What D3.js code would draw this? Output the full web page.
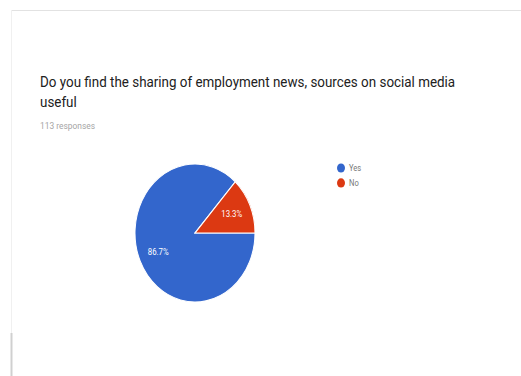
<!DOCTYPE html>
<html>
<head>
<meta charset="utf-8">
<script src="https://cdn.jsdelivr.net/npm/d3@7"></script>
<style>
  html, body { margin: 0; padding: 0; background: #fff; }
  svg { display: block; }
  text { font-family: Roboto, Arial, sans-serif; }
</style>
</head>
<body>
<svg id="chart" width="521" height="376"></svg>
<script>
// Survey question and response breakdown
const titleLines = ["Do you find the sharing of employment news, sources on social media", "useful"];
const responseNote = "113 responses";
const categories = ["Yes", "No"];
const percents = [86.7, 13.3];
const colors = ["#3366cc", "#dc3912"];

const W = 521, H = 376;
const sy = 1.15; // vertical stretch of the card

const svg = d3.select("#chart");

// Card outline
svg.append("line").attr("x1", 11).attr("x2", W).attr("y1", 10.5).attr("y2", 10.5)
  .attr("stroke", "#e2e2e2").attr("stroke-width", 1);
svg.append("line").attr("x1", 11.5).attr("x2", 11.5).attr("y1", 10).attr("y2", H)
  .attr("stroke", "#f0f0f0").attr("stroke-width", 1);
svg.append("line").attr("x1", 11.5).attr("x2", 11.5).attr("y1", 333).attr("y2", H)
  .attr("stroke", "#d0d0d0").attr("stroke-width", 2);

const g = svg.append("g").attr("transform", `scale(1,${sy})`);

// Title
g.selectAll("text.title").data(titleLines).join("text")
  .attr("class", "title")
  .attr("x", 40)
  .attr("y", (d, i) => 75.5 + i * 17.8)
  .attr("font-size", 13.4)
  .attr("fill", "#212121")
  .text(d => d);

g.append("text")
  .attr("x", 40).attr("y", 112)
  .attr("font-size", 8.4)
  .attr("fill", "#a5a5a5")
  .text(responseNote);

// Pie
const cx = 195, cy = 233 / sy, r = 60;
const pie = d3.pie().sort(null).value(d => d)
  .startAngle(Math.PI / 2).endAngle(Math.PI / 2 + 2 * Math.PI);
const arcs = pie(percents);
const arc = d3.arc().innerRadius(0).outerRadius(r);
const labelArc = d3.arc().innerRadius(r * 0.67).outerRadius(r * 0.67);

const pg = g.append("g").attr("transform", `translate(${cx},${cy})`);
pg.selectAll("path").data(arcs).join("path")
  .attr("d", arc)
  .attr("fill", (d, i) => colors[i])
  .attr("stroke", "#fff").attr("stroke-width", 1);

pg.selectAll("text").data(arcs).join("text")
  .attr("transform", d => `translate(${labelArc.centroid(d)})`)
  .attr("text-anchor", "middle")
  .attr("dy", "0.35em")
  .attr("font-size", 7.8)
  .attr("fill", "#fff")
  .text(d => d.data.toFixed(1) + "%");

// Legend
const lg = g.append("g").attr("transform", `translate(341,${168 / sy})`);
const item = lg.selectAll("g").data(categories).join("g")
  .attr("transform", (d, i) => `translate(0,${i * 13})`);
item.append("circle").attr("r", 4).attr("fill", (d, i) => colors[i]);
item.append("text").attr("x", 8).attr("dy", "0.35em")
  .attr("font-size", 7.6).attr("fill", "#777")
  .text(d => d);
</script>
</body>
</html>
